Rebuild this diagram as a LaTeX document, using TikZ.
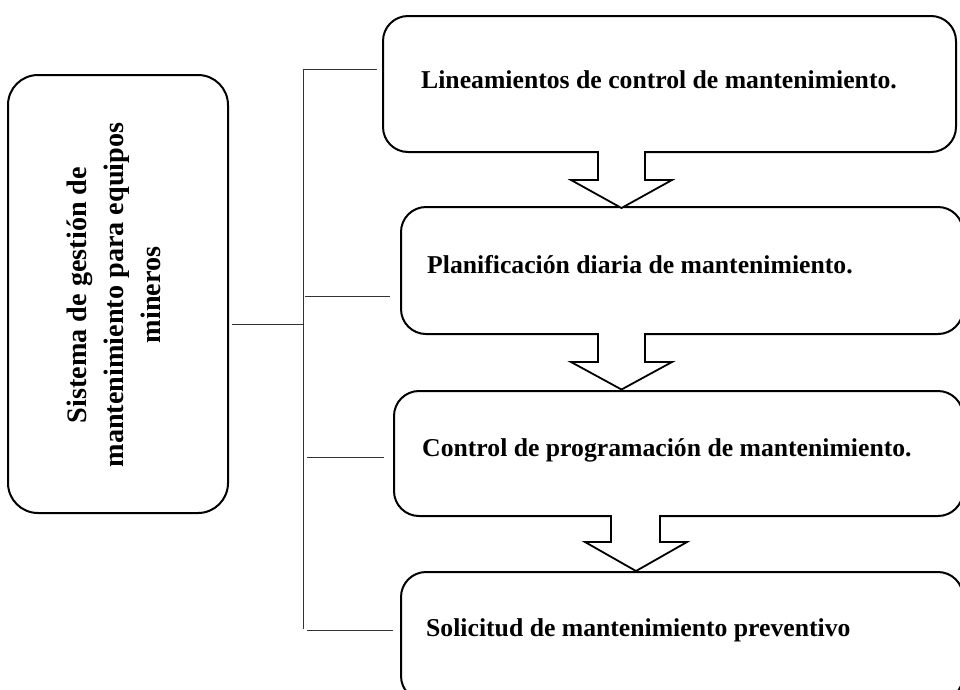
\documentclass[tikz,border=0pt]{standalone}
\usepackage{fontspec}
\setmainfont{Liberation Serif}
\begin{document}
\begin{tikzpicture}[x=1pt,y=-1pt,
  box/.style={draw=black, line width=2pt, rounded corners=25pt, inner sep=0pt},
  lbl/.style={font=\bfseries\fontsize{25.7}{36}\selectfont, inner sep=0pt, anchor=base west},
  link/.style={draw=black!80, line width=1pt},
  barrow/.style={draw=black, fill=white, line width=1.8pt, line join=miter}]
\clip (0,0) rectangle (960,689);
% left box
\node[box, rounded corners=30pt, minimum width=220pt, minimum height=438pt] (lb) at (118,294) {};
\node[font=\bfseries\fontsize{28.2}{37}\selectfont, align=center, rotate=90, inner sep=0pt] (lt) at (114,295)
  {Sistema de gestión de\\mantenimiento para equipos\\mineros};
% right boxes
\node[box, anchor=north west, minimum width=573pt, minimum height=136pt] (b1) at (382,15) {};
\node[box, anchor=north west, minimum width=562pt, minimum height=127pt] (b2) at (400,206) {};
\node[box, anchor=north west, minimum width=569pt, minimum height=125pt] (b3) at (393,390) {};
\node[box, anchor=north west, minimum width=562pt, minimum height=129pt] (b4) at (400,571) {};
\node[lbl] (t1) at (421,88) {Lineamientos de control de mantenimiento.};
\node[lbl] (t2) at (427,273) {Planificación diaria de mantenimiento.};
\node[lbl] (t3) at (422,456) {Control de programación de mantenimiento.};
\node[lbl] (t4) at (426,636) {Solicitud de mantenimiento preventivo};
% bracket
\coordinate (vt) at (303,69);
\coordinate (vb) at (303,629);
\coordinate (e1) at (377,69);
\coordinate (s2) at (305,296);
\coordinate (e2) at (390,296);
\coordinate (l0) at (232,324);
\coordinate (l1) at (303,324);
\coordinate (s3) at (307,457);
\coordinate (e3) at (384,457);
\coordinate (s4) at (307,630);
\coordinate (e4) at (393,630);
\draw[link] (e1) -- (vt) -- (vb);
\draw[link] (s2) -- (e2);
\draw[link] (l0) -- (l1);
\draw[link] (s3) -- (e3);
\draw[link] (s4) -- (e4);
% block arrows
\draw[barrow] (598,151) -- (598,180) -- (571,180) -- (621.5,208) -- (672,180) -- (645,180) -- (645,151);
\draw[barrow] (598,333) -- (598,362) -- (571,362) -- (621.5,389.5) -- (672,362) -- (645,362) -- (645,333);
\draw[barrow] (611,515) -- (611,542) -- (585,542) -- (636,571) -- (687,542) -- (660,542) -- (660,515);
\end{tikzpicture}
\end{document}
